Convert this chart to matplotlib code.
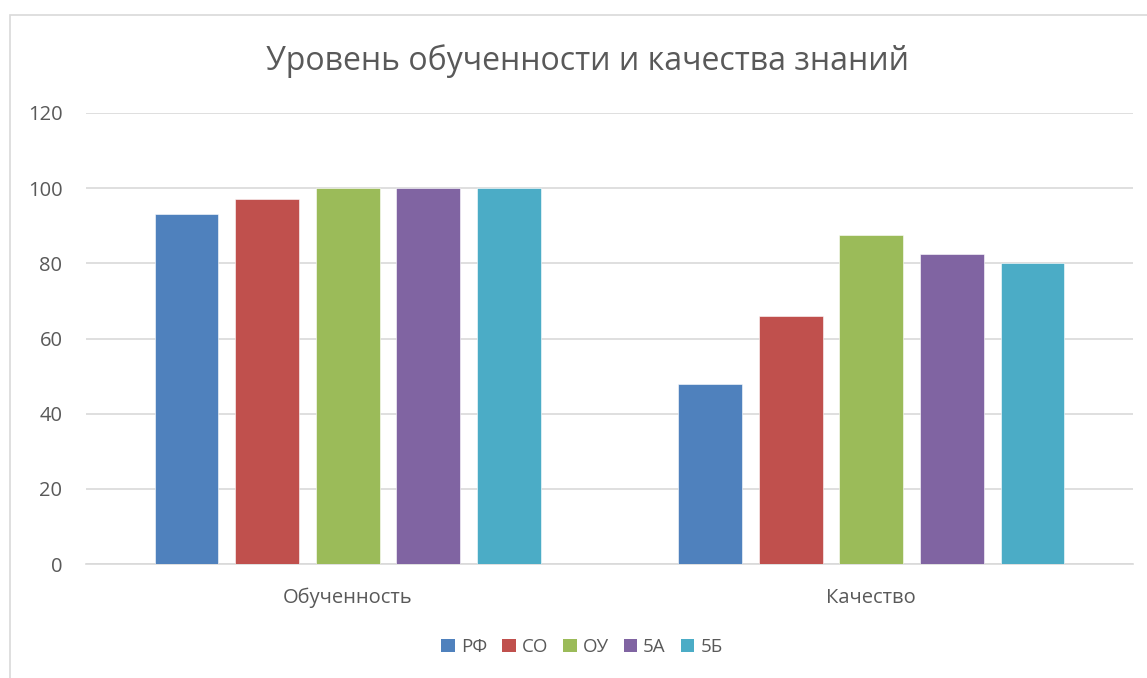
import matplotlib.pyplot as plt
from matplotlib.patches import Rectangle, Patch
import numpy as np

plt.rcParams['font.family'] = ['Open Sans', 'DejaVu Sans']

categories = ['Обученность', 'Качество']
series = ['РФ', 'СО', 'ОУ', '5А', '5Б']
values = {
    'РФ': [93, 48],
    'СО': [97, 66],
    'ОУ': [100, 87.5],
    '5А': [100, 82.5],
    '5Б': [100, 80],
}
colors = ['#4F81BD', '#C0504D', '#9BBB59', '#8064A2', '#4BACC6']
text_col = '#595959'
grid_col = '#D9D9D9'

W, H = 1147, 678
fig = plt.figure(figsize=(W / 100, H / 100), dpi=100)
ax = fig.add_axes([86 / W, 1 - 564 / H, (1133 - 86) / W, (564 - 113) / H])

# outer chart border (runs off the right and bottom edges)
fig.patches.append(Rectangle((10 / W, -0.1), 1.2, 1 - 15 / H + 0.1,
                             transform=fig.transFigure, fill=False,
                             edgecolor=grid_col, linewidth=1.2))

x = np.arange(len(categories))
width = 0.122
step = 0.154
for i, (name, col) in enumerate(zip(series, colors)):
    offset = (i - 2) * step
    ax.bar(x + offset, values[name], width, color=col, label=name,
           zorder=3, edgecolor='white', linewidth=0.4)

ax.set_xlim(-0.5, 1.5)
ax.set_ylim(0, 120)
ax.set_yticks(range(0, 121, 20))
ax.set_xticks(x)
ax.set_xticklabels(categories)
ax.yaxis.grid(True, color=grid_col, linewidth=1.2, zorder=0)
ax.set_axisbelow(True)
for s in ['top', 'right', 'left']:
    ax.spines[s].set_visible(False)
ax.spines['bottom'].set_color(grid_col)
ax.spines['bottom'].set_linewidth(1.2)
ax.tick_params(axis='y', length=0, pad=17, labelsize=14.5, labelcolor=text_col)
ax.tick_params(axis='x', length=0, pad=17, labelsize=14.5, labelcolor=text_col)

fig.text(587 / W, 1 - 61 / H, 'Уровень обученности и качества знаний',
         ha='center', va='center', fontsize=23, color=text_col)

handles = [Patch(facecolor=c, label=n) for n, c in zip(series, colors)]
fig.legend(handles=handles, loc='center', bbox_to_anchor=(582 / W, 1 - 647 / H),
           ncol=5, frameon=False, fontsize=13.5, labelcolor=text_col,
           handlelength=0.72, handleheight=0.72, handletextpad=0.32,
           columnspacing=0.8)

fig.savefig('out.png', dpi=100)
